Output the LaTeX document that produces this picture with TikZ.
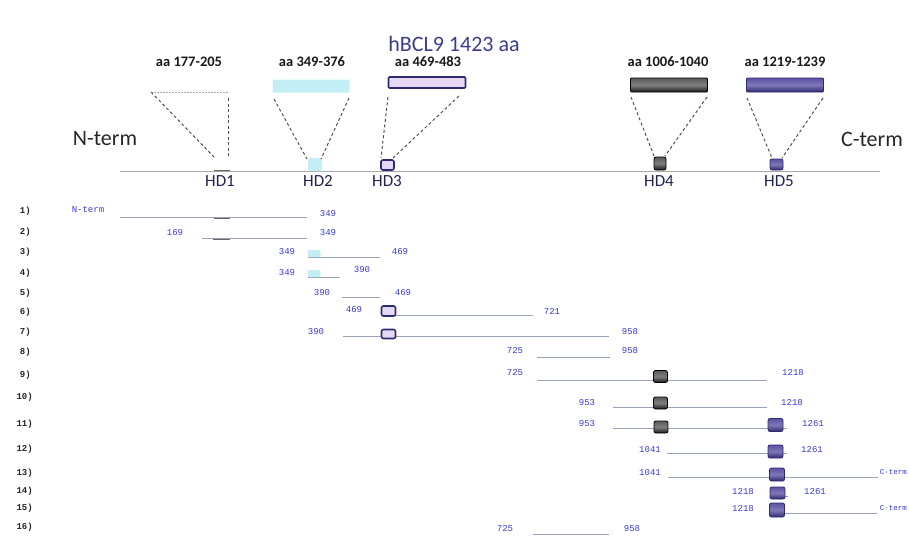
\documentclass[tikz,border=0pt]{standalone}
\usepackage{fontspec}
\setmainfont{Carlito}
\newfontfamily\monofont{Liberation Mono}
\usetikzlibrary{calc}
\definecolor{titlecol}{HTML}{3C3C8C}
\definecolor{numblue}{HTML}{3A3ACD}
\definecolor{hdnavy}{HTML}{22224E}
\definecolor{linegray}{HTML}{9AA2B8}
\definecolor{axisgray}{HTML}{A8A8A8}
\definecolor{dashgray}{HTML}{505050}
\definecolor{hdcyan}{HTML}{C4EEF6}
\definecolor{hdlav}{HTML}{E4D8F4}
\definecolor{hdborder}{HTML}{2E2A6E}
\definecolor{hdpurple}{HTML}{4A3E9A}
\tikzset{
  ttl/.style={font=\fontsize{22}{24}\selectfont, text=titlecol, inner sep=0},
  aalab/.style={font=\bfseries\fontsize{14.5}{16}\selectfont, text=black!90, inner sep=0},
  hdlab/.style={font=\fontsize{17}{18}\selectfont, text=hdnavy, inner sep=0},
  term/.style={font=\fontsize{22}{24}\selectfont, text=black!85, inner sep=0},
  rowlab/.style={font=\monofont\bfseries\fontsize{9}{9}\selectfont, text=black!85, anchor=east, inner sep=0},
  num/.style={font=\monofont\fontsize{9}{9}\selectfont, text=numblue, inner sep=0},
  bigbox/.style={minimum width=77pt, minimum height=13pt, inner sep=0, rounded corners=1pt},
  minibox/.style={minimum width=14pt, minimum height=12pt, inner sep=0, rounded corners=2pt},
  dtwo/.style={fill=hdcyan, draw=none},
  dthree/.style={fill=hdlav, draw=hdborder, line width=1.6pt},
  dfour/.style={top color=black!65, bottom color=black!90, middle color=black!50, draw=black, line width=0.8pt},
  dfive/.style={top color=hdpurple!90, bottom color=hdborder, middle color=hdpurple!70!white, draw=hdborder, line width=0.8pt},
  link/.style={draw=dashgray, line width=1pt, dash pattern=on 3pt off 2.5pt},
  faint/.style={draw=gray!70, line width=0.6pt, dash pattern=on 2pt off 1pt},
  axis/.style={draw=axisgray, line width=0.9pt},
  seg/.style={draw=linegray, line width=0.8pt},
  notch/.style={draw=black!60, line width=0.8pt},
  bump/.style={fill=hdcyan, draw=none, minimum width=13pt, minimum height=7pt, inner sep=0, rounded corners=2pt}
}
\begin{document}
\begin{tikzpicture}[x=1pt,y=-1pt]
\useasboundingbox (0,0) rectangle (909,539);
% title
\node[ttl] (title) at (454,44) {hBCL9 1423 aa};
% domain labels
\node[aalab] (aa1) at (189,62) {aa 177-205};
\node[aalab] (aa2) at (312,62) {aa 349-376};
\node[aalab] (aa3) at (428,62) {aa 469-483};
\node[aalab] (aa4) at (668,62) {aa 1006-1040};
\node[aalab] (aa5) at (785,62) {aa 1219-1239};
% big boxes
\node[bigbox,dtwo] (B2) at (311,86) {};
\node[bigbox,dthree,minimum height=11pt] (B3) at (427,82.5) {};
\node[bigbox,dfour,minimum height=14pt] (B4) at (669,85) {};
\node[bigbox,dfive,minimum height=14pt] (B5) at (785,85) {};
% axis
\coordinate (axL) at (120,171);
\coordinate (axR) at (880,171);
\draw[axis] (axL) -- (axR);
% HD1 (no box)
\coordinate (h1a) at (151,92);
\coordinate (h1b) at (228,92);
\coordinate (h1c) at (215,158);
\coordinate (h1d) at (228,98);
\coordinate (h1e) at (228,157);
\coordinate (h1f) at (214,170.5);
\coordinate (h1g) at (230,170.5);
\draw[faint] (h1a) -- (h1b);
\draw[link] (h1a) -- (h1c);
\draw[link] (h1d) -- (h1e);
\draw[notch] (h1f) -- (h1g);
% small boxes on axis
\node[minibox,dtwo,minimum height=13pt] (S2) at (315,164.5) {};
\node[minibox,dthree,minimum width=13pt,minimum height=10pt] (S3) at (387.5,165) {};
\node[minibox,dfour,minimum width=12pt,minimum height=13pt] (S4) at (660,163.5) {};
\node[minibox,dfive,minimum width=13pt,minimum height=11pt] (S5) at (776.5,164.5) {};
% dashed connectors
\coordinate (c2a) at (274,99);  \coordinate (c2b) at (307,159);
\coordinate (c2c) at (349,98);  \coordinate (c2d) at (321,159);
\coordinate (c3a) at (388,97);  \coordinate (c3b) at (381,158);
\coordinate (c3c) at (459,96);  \coordinate (c3d) at (393,158);
\coordinate (c4a) at (631,97);  \coordinate (c4b) at (654,156);
\coordinate (c4c) at (707,97);  \coordinate (c4d) at (665,156);
\coordinate (c5a) at (747,98);  \coordinate (c5b) at (772,158);
\coordinate (c5c) at (823,98);  \coordinate (c5d) at (782,158);
\draw[link] (c2a) -- (c2b);
\draw[link] (c2c) -- (c2d);
\draw[link] (c3a) -- (c3b);
\draw[link] (c3c) -- (c3d);
\draw[link] (c4a) -- (c4b);
\draw[link] (c4c) -- (c4d);
\draw[link] (c5a) -- (c5b);
\draw[link] (c5c) -- (c5d);
% HD labels
\node[hdlab] (HD1) at (220,181) {HD1};
\node[hdlab] (HD2) at (318,181) {HD2};
\node[hdlab] (HD3) at (387,181) {HD3};
\node[hdlab] (HD4) at (659,181) {HD4};
\node[hdlab] (HD5) at (779,181) {HD5};
% termini
\node[term] (Nt) at (105,139) {N-term};
\node[term] (Ct) at (872,139) {C-term};
% row labels
\node[rowlab] (L1) at (31,211) {1)};
\node[rowlab] (L2) at (31,232) {2)};
\node[rowlab] (L3) at (31,252) {3)};
\node[rowlab] (L4) at (31,273) {4)};
\node[rowlab] (L5) at (31,293) {5)};
\node[rowlab] (L6) at (31,312) {6)};
\node[rowlab] (L7) at (31,332) {7)};
\node[rowlab] (L8) at (31,352) {8)};
\node[rowlab] (L9) at (31,375) {9)};
\node[rowlab] (L10) at (33,397) {10)};
\node[rowlab] (L11) at (33,424) {11)};
\node[rowlab] (L12) at (33,449) {12)};
\node[rowlab] (L13) at (33,473) {13)};
\node[rowlab] (L14) at (33,491) {14)};
\node[rowlab] (L15) at (33,508) {15)};
\node[rowlab] (L16) at (33,527) {16)};
% row 1
\node[num] (r1a) at (88,210) {N-term};
\coordinate (r1s) at (120,217); \coordinate (r1e) at (307,217);
\coordinate (r1n) at (214,218); \coordinate (r1m) at (230,218);
\draw[seg] (r1s) -- (r1e);
\draw[notch] (r1n) -- (r1m);
\node[num] (r1b) at (328,214) {349};
% row 2
\node[num] (r2a) at (175,233) {169};
\coordinate (r2s) at (202,238); \coordinate (r2e) at (307,238);
\coordinate (r2n) at (213,239); \coordinate (r2m) at (230,239);
\draw[seg] (r2s) -- (r2e);
\draw[notch] (r2n) -- (r2m);
\node[num] (r2b) at (328,233) {349};
% row 3
\node[num] (r3a) at (287,252) {349};
\coordinate (r3s) at (308,257); \coordinate (r3e) at (380,257);
\draw[seg] (r3s) -- (r3e);
\node[bump] (r3d) at (314,253.5) {};
\node[num] (r3b) at (400,252) {469};
% row 4
\node[num] (r4a) at (287,273) {349};
\coordinate (r4s) at (308,277); \coordinate (r4e) at (340,277);
\draw[seg] (r4s) -- (r4e);
\node[bump] (r4d) at (314,273.5) {};
\node[num] (r4b) at (362,270) {390};
% row 5
\node[num] (r5a) at (322,293) {390};
\coordinate (r5s) at (342,297); \coordinate (r5e) at (380,297);
\draw[seg] (r5s) -- (r5e);
\node[num] (r5b) at (403,293) {469};
% row 6
\node[num] (r6a) at (354,310) {469};
\coordinate (r6s) at (389,315); \coordinate (r6e) at (533,315);
\draw[seg] (r6s) -- (r6e);
\node[minibox,dthree,minimum width=14pt,minimum height=10pt] (r6d) at (388.5,311) {};
\node[num] (r6b) at (552,311) {721};
% row 7
\node[num] (r7a) at (316,332) {390};
\coordinate (r7s) at (343,336); \coordinate (r7e) at (609,336);
\draw[seg] (r7s) -- (r7e);
\node[minibox,dthree,minimum width=14pt,minimum height=9pt] (r7d) at (388.5,334) {};
\node[num] (r7b) at (630,332) {958};
% row 8
\node[num] (r8a) at (515,351) {725};
\coordinate (r8s) at (537,357); \coordinate (r8e) at (610,357);
\draw[seg] (r8s) -- (r8e);
\node[num] (r8b) at (630,351) {958};
% row 9
\node[num] (r9a) at (515,373) {725};
\coordinate (r9s) at (537,380); \coordinate (r9e) at (767,380);
\draw[seg] (r9s) -- (r9e);
\node[minibox,dfour] (r9d) at (660.5,376.5) {};
\node[num] (r9b) at (793,373) {1218};
% row 10
\node[num] (r10a) at (587,403) {953};
\coordinate (r10s) at (613,407); \coordinate (r10e) at (767,407);
\draw[seg] (r10s) -- (r10e);
\node[minibox,dfour] (r10d) at (660.5,403) {};
\node[num] (r10b) at (792,403) {1218};
% row 11
\node[num] (r11a) at (587,424) {953};
\coordinate (r11s) at (613,428); \coordinate (r11e) at (787,428);
\draw[seg] (r11s) -- (r11e);
\node[minibox,dfour] (r11d) at (661,427) {};
\node[minibox,dfive,minimum width=15pt,minimum height=13pt] (r11f) at (775.5,425) {};
\node[num] (r11b) at (813,424) {1261};
% row 12
\node[num] (r12a) at (650,450) {1041};
\coordinate (r12s) at (667,453); \coordinate (r12e) at (787,453);
\draw[seg] (r12s) -- (r12e);
\node[minibox,dfive,minimum width=15pt,minimum height=13pt] (r12f) at (775.5,451.5) {};
\node[num] (r12b) at (812,450) {1261};
% row 13
\node[num] (r13a) at (650,473) {1041};
\coordinate (r13s) at (668,477); \coordinate (r13e) at (878,477);
\draw[seg] (r13s) -- (r13e);
\node[minibox,dfive,minimum width=15pt,minimum height=13pt] (r13f) at (777,474.5) {};
\node[num,anchor=east,font=\monofont\fontsize{7.5}{8}\selectfont] (r13b) at (907,472) {C-term};
% row 14
\node[num] (r14a) at (743,492) {1218};
\coordinate (r14s) at (778,496); \coordinate (r14e) at (788,496);
\draw[seg] (r14s) -- (r14e);
\node[minibox,dfive,minimum width=15pt,minimum height=12pt] (r14f) at (777.5,493) {};
\node[num] (r14b) at (815,492) {1261};
% row 15
\node[num] (r15a) at (743,509) {1218};
\coordinate (r15s) at (778,513); \coordinate (r15e) at (877,513);
\draw[seg] (r15s) -- (r15e);
\node[minibox,dfive,minimum width=15pt,minimum height=14pt] (r15f) at (777,510) {};
\node[num,anchor=east,font=\monofont\fontsize{7.5}{8}\selectfont] (r15b) at (907,508) {C-term};
% row 16
\node[num] (r16a) at (505,529) {725};
\coordinate (r16s) at (533,534); \coordinate (r16e) at (609,534);
\draw[seg] (r16s) -- (r16e);
\node[num] (r16b) at (632,529) {958};
\end{tikzpicture}
\end{document}
